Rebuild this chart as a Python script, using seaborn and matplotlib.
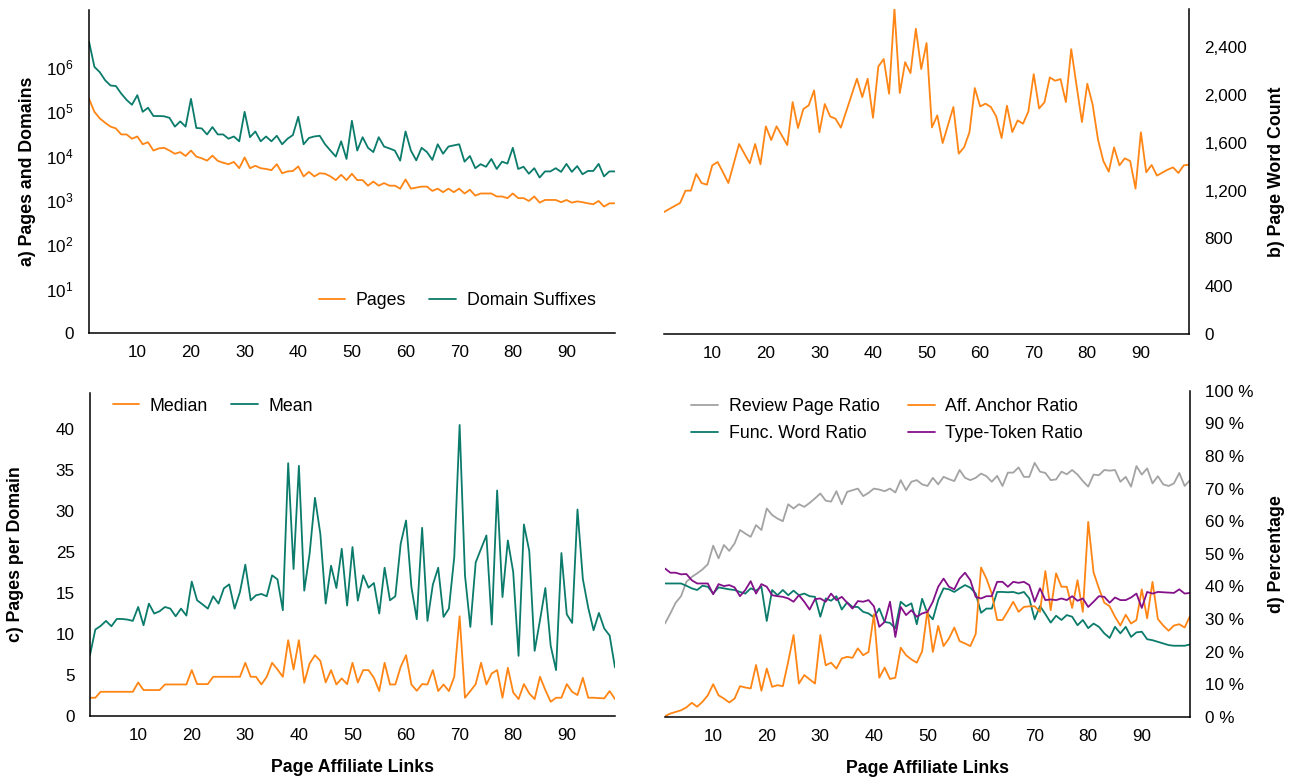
import numpy as np
import pandas as pd
import seaborn as sns
import matplotlib
matplotlib.use("Agg")
import matplotlib.pyplot as plt

sns.set_style("white")
plt.rcParams['font.family'] = ['Liberation Sans', 'DejaVu Sans']
plt.rcParams['mathtext.fontset'] = 'custom'
plt.rcParams['mathtext.rm'] = 'Liberation Sans'
plt.rcParams['text.color'] = 'black'
plt.rcParams['axes.labelcolor'] = 'black'

# Data
links = list(range(1, 100))

pages = [190000, 97000, 69000, 55000, 45000, 41000, 30000, 30000, 24000, 27000,
         18000, 20000, 13000, 14500, 15000, 13000, 11000, 12000, 9800, 13000,
         9500, 8700, 7700, 10000, 7600, 6900, 6400, 7200, 5200, 9100,
         5200, 5900, 5200, 5000, 4700, 6400, 4000, 4400, 4500, 5700,
         3400, 4300, 3400, 4000, 3900, 3400, 2800, 3700, 2800, 3900,
         2800, 2800, 2100, 2600, 2100, 2400, 2100, 2100, 1800, 2900,
         1800, 1900, 2000, 2000, 1600, 1800, 1500, 1800, 1500, 1800,
         1400, 1700, 1250, 1400, 1400, 1400, 1200, 1200, 1100, 1400,
         1100, 1100, 950, 1200, 870, 1000, 1000, 1000, 890, 1000,
         870, 930, 890, 840, 800, 950, 710, 840, 840]

domain_suffixes = [3700000, 1000000, 760000, 500000, 380000, 370000, 250000, 180000, 140000, 230000,
                   97000, 120000, 78000, 78000, 77000, 71000, 45000, 59000, 45000, 190000,
                   42000, 41000, 30000, 44000, 30000, 30000, 24000, 27000, 21000, 97000,
                   26000, 35000, 21000, 27000, 21000, 28000, 18000, 24000, 29000, 75000,
                   18000, 25000, 27000, 28000, 18000, 13000, 9500, 21000, 8400, 61000,
                   13000, 26000, 15000, 12000, 26000, 16000, 14500, 13000, 7700, 35000,
                   13000, 7800, 15000, 12000, 8000, 18000, 11000, 16000, 17000, 18000,
                   7300, 9800, 5200, 6400, 5600, 8400, 5000, 7300, 6600, 15000,
                   5000, 5600, 3900, 5200, 3200, 4400, 4400, 5200, 4300, 6500,
                   4300, 5800, 3800, 4500, 4500, 6500, 3400, 4400, 4400]

word_count = [1021, 1047, 1072, 1097, 1200, 1200, 1340, 1264, 1250, 1412,
              1440, 1354, 1264, 1426, 1591, 1510, 1429, 1591, 1421, 1739,
              1624, 1739, 1661, 1582, 1942, 1725, 1884, 1915, 2040, 1689,
              1926, 1822, 1803, 1728, 1864, 2001, 2138, 1984, 2138, 1811,
              2241, 2303, 2012, 2724, 2018, 2277, 2185, 2557, 2219, 2437,
              1730, 1831, 1599, 1750, 1901, 1510, 1563, 1689, 2060, 1906,
              1929, 1901, 1822, 1641, 1912, 1691, 1789, 1761, 1864, 2177,
              1889, 1940, 2149, 2121, 2135, 1942, 2386, 2079, 1775, 2096,
              1920, 1627, 1448, 1359, 1563, 1412, 1471, 1448, 1217, 1689,
              1354, 1415, 1326, 1351, 1376, 1395, 1348, 1412, 1418]

median_pages = [2.55, 2.55, 3.38, 3.38, 3.38, 3.38, 3.38, 3.38, 3.38, 4.68,
                3.62, 3.62, 3.62, 3.62, 4.40, 4.40, 4.40, 4.40, 4.40, 6.40,
                4.45, 4.45, 4.45, 5.47, 5.47, 5.47, 5.47, 5.47, 5.47, 7.42,
                5.47, 5.47, 4.40, 5.47, 7.42, 6.49, 5.47, 10.57, 6.49, 10.57,
                4.63, 7.32, 8.48, 7.69, 4.68, 6.40, 4.40, 5.24, 4.45, 7.42,
                4.68, 6.40, 6.40, 5.33, 3.48, 7.42, 4.40, 4.40, 6.86, 8.48,
                4.40, 3.52, 4.45, 4.40, 6.40, 3.48, 4.40, 3.48, 5.47, 13.9,
                2.55, 3.48, 4.45, 7.42, 4.40, 5.93, 6.40, 2.55, 6.72, 3.29,
                2.36, 4.45, 3.15, 2.36, 5.47, 3.62, 1.99, 2.55, 2.55, 4.45,
                3.38, 2.92, 5.33, 2.55, 2.55, 2.50, 2.46, 3.48, 2.36]

mean_pages = [8.48, 12.05, 12.56, 13.26, 12.51, 13.53, 13.53, 13.44, 13.26, 15.20,
              12.65, 15.67, 14.28, 14.60, 15.20, 14.97, 13.90, 14.97, 14.00, 18.73,
              16.13, 15.57, 14.97, 16.69, 15.67, 17.80, 18.35, 14.97, 17.29, 21.09,
              16.13, 16.83, 17.01, 16.69, 19.61, 19.05, 14.74, 35.23, 20.49, 34.86,
              17.47, 22.62, 30.41, 25.40, 15.67, 20.95, 17.84, 23.31, 15.39, 23.55,
              16.08, 19.61, 17.89, 18.54, 14.28, 20.67, 16.13, 16.69, 24.01, 27.25,
              17.98, 13.49, 26.23, 13.26, 18.31, 20.67, 13.81, 14.97, 22.16, 40.56,
              19.61, 12.42, 21.41, 23.31, 25.17, 12.75, 31.43, 16.59, 24.47, 20.07,
              8.39, 26.70, 22.99, 9.08, 13.35, 17.84, 9.78, 6.40, 22.71, 14.18,
              12.98, 28.78, 19.10, 15.11, 11.96, 14.37, 12.19, 11.22, 6.77]

review_ratio = [28.6, 31.7, 35.0, 37.0, 41.4, 42.9, 44.0, 45.2, 46.8, 52.5,
                48.6, 52.7, 50.9, 53.2, 57.3, 56.2, 55.2, 58.8, 57.3, 63.9,
                61.9, 60.8, 60.0, 65.2, 63.9, 65.2, 64.4, 65.6, 67.0, 68.5,
                66.3, 66.0, 69.2, 65.2, 69.0, 69.5, 70.0, 67.7, 68.7, 70.0,
                69.7, 69.2, 70.0, 68.8, 72.6, 69.5, 72.1, 72.6, 71.3, 70.8,
                73.3, 71.3, 73.6, 72.9, 72.3, 75.7, 73.3, 72.6, 73.3, 74.6,
                73.8, 72.1, 73.9, 70.8, 74.9, 74.9, 76.5, 73.6, 73.6, 77.9,
                75.2, 74.8, 72.6, 72.8, 75.2, 74.4, 75.7, 74.3, 72.3, 70.6,
                74.3, 74.1, 75.7, 75.5, 75.7, 72.1, 73.6, 70.6, 76.9, 74.3,
                76.2, 71.6, 73.8, 71.3, 70.8, 71.6, 74.8, 70.8, 72.6]

anchor_ratio = [0.2, 1.0, 1.5, 2.0, 2.9, 4.3, 3.1, 4.6, 6.6, 10.0,
                6.6, 5.6, 4.4, 5.6, 9.4, 9.0, 8.7, 15.9, 8.0, 14.8,
                9.2, 9.7, 9.4, 16.9, 25.1, 10.2, 12.8, 11.5, 10.2, 25.1,
                15.8, 16.6, 14.8, 17.9, 18.4, 18.1, 21.0, 18.9, 19.9, 31.5,
                12.0, 15.1, 11.6, 12.0, 21.2, 18.9, 17.6, 16.6, 20.1, 32.7,
                19.9, 27.9, 21.7, 24.0, 27.4, 23.2, 22.5, 21.7, 25.4, 45.8,
                42.4, 37.8, 29.7, 29.7, 32.4, 35.3, 32.2, 33.7, 33.9, 33.9,
                32.2, 44.7, 32.7, 44.0, 39.9, 39.9, 33.4, 41.9, 32.2, 59.8,
                44.3, 39.4, 35.0, 33.9, 30.7, 28.0, 31.3, 28.6, 29.7, 39.1,
                30.2, 41.4, 30.0, 28.0, 26.4, 28.0, 28.4, 27.4, 30.9]

func_word_ratio = [40.9, 40.9, 40.9, 40.9, 40.2, 39.4, 38.9, 40.2, 39.9, 37.8,
                   39.7, 39.4, 39.1, 38.9, 38.3, 37.8, 39.4, 38.7, 39.9, 29.4,
                   38.9, 37.3, 38.9, 37.3, 38.7, 37.3, 37.8, 37.0, 36.8, 30.7,
                   36.3, 35.6, 37.0, 32.9, 35.1, 33.7, 33.7, 32.2, 31.7, 30.5,
                   33.2, 29.1, 28.8, 27.1, 35.3, 33.9, 34.8, 28.4, 36.2, 31.7,
                   29.9, 35.8, 39.4, 39.1, 38.3, 39.4, 40.4, 39.6, 37.8, 31.9,
                   33.2, 33.2, 38.3, 38.3, 38.2, 38.3, 37.8, 38.3, 36.3, 29.9,
                   34.0, 31.5, 28.9, 31.0, 29.7, 31.2, 30.7, 28.1, 29.7, 27.2,
                   28.6, 27.6, 25.6, 24.2, 27.6, 25.6, 27.6, 24.5, 25.9, 26.1,
                   23.8, 23.5, 23.0, 22.5, 22.0, 21.8, 21.8, 21.8, 22.2]

type_token_ratio = [45.5, 44.2, 44.2, 43.7, 43.8, 41.9, 40.9, 40.9, 40.9, 37.6,
                    40.7, 40.1, 40.4, 39.7, 37.0, 38.9, 41.6, 37.8, 40.7, 39.9,
                    37.3, 37.0, 36.8, 36.3, 35.3, 37.3, 35.3, 32.9, 36.1, 36.3,
                    35.3, 37.8, 35.8, 36.8, 35.0, 33.2, 35.5, 35.3, 35.8, 33.9,
                    27.6, 29.1, 35.3, 24.5, 33.7, 31.2, 32.7, 30.7, 31.7, 32.2,
                    35.3, 39.9, 42.4, 39.9, 39.1, 42.4, 44.2, 41.9, 36.8, 36.3,
                    37.0, 37.0, 41.4, 41.4, 39.9, 41.4, 41.1, 41.4, 40.4, 35.3,
                    39.4, 35.8, 36.0, 35.8, 36.3, 35.8, 37.0, 35.6, 36.3, 33.7,
                    35.3, 37.0, 36.8, 35.0, 36.6, 35.8, 35.8, 36.6, 37.8, 33.4,
                    38.3, 37.8, 38.3, 38.2, 38.1, 38.0, 39.1, 37.8, 38.0]

xticks = [10, 20, 30, 40, 50, 60, 70, 80, 90]
log_ticks = [1, 10, 100, 1000, 10000, 100000, 1000000]
log_labels = ['0'] + [r'$\mathregular{10^{%d}}$' % k for k in range(1, 7)]
word_ticks = [0, 400, 800, 1200, 1600, 2000, 2400]
ppd_labels = ['0', '5', '10', '15', '25', '30', '35', '40']
pct_ticks = list(range(0, 101, 10))

ORANGE = '#ff8514'
TEAL = '#0b7b6b'
GRAY = '#a3a3a3'
PURPLE = '#84108a'

fig = plt.figure(figsize=(12.98, 7.8), dpi=100)
ax_a = fig.add_axes([0.0686, 0.573, 0.405, 0.414])
ax_b = fig.add_axes([0.5116, 0.572, 0.4045, 0.4167])
ax_c = fig.add_axes([0.0693, 0.082, 0.4045, 0.414])
ax_d = fig.add_axes([0.5123, 0.081, 0.4045, 0.418])

lw = 1.3
tick_fs = 12.3
leg_fs = 12.8
lab_fs = 12.8

# a) pages and domains
sns.lineplot(x=links, y=pages, ax=ax_a, color=ORANGE, linewidth=lw, label='Pages')
sns.lineplot(x=links, y=domain_suffixes, ax=ax_a, color=TEAL, linewidth=lw, label='Domain Suffixes')
ax_a.set_yscale('log')
ax_a.set_ylim(1, 1.9e7)
ax_a.set_yticks(log_ticks)
ax_a.set_yticklabels(log_labels)
ax_a.minorticks_off()
ax_a.set_ylabel('a) Pages and Domains')
ax_a.legend(loc='center', bbox_to_anchor=(0.70, 0.10), ncol=2, frameon=False,
            fontsize=leg_fs, handlelength=1.5, handletextpad=0.6, columnspacing=1.3)

# b) word count
sns.lineplot(x=links, y=word_count, ax=ax_b, color=ORANGE, linewidth=lw, legend=False)
ax_b.set_ylim(0, max(word_count))
ax_b.set_yticks(word_ticks)
ax_b.set_yticklabels([f'{v:,}' for v in word_ticks])
ax_b.set_ylabel('b) Page Word Count')

# c) pages per domain
sns.lineplot(x=links, y=median_pages, ax=ax_c, color=ORANGE, linewidth=lw, label='Median')
sns.lineplot(x=links, y=mean_pages, ax=ax_c, color=TEAL, linewidth=lw, label='Mean')
ax_c.set_ylim(0, 45)
ax_c.set_yticks(np.linspace(0, 40, 8))
ax_c.set_yticklabels(ppd_labels)
ax_c.set_ylabel('c) Pages per Domain')
ax_c.legend(loc='center', bbox_to_anchor=(0.234, 0.96), ncol=2, frameon=False,
            fontsize=leg_fs, handlelength=1.5, handletextpad=0.6, columnspacing=1.3)

# d) percentages
sns.lineplot(x=links, y=review_ratio, ax=ax_d, color=GRAY, linewidth=lw, label='Review Page Ratio')
sns.lineplot(x=links, y=func_word_ratio, ax=ax_d, color=TEAL, linewidth=lw, label='Func. Word Ratio')
sns.lineplot(x=links, y=anchor_ratio, ax=ax_d, color=ORANGE, linewidth=lw, label='Aff. Anchor Ratio')
sns.lineplot(x=links, y=type_token_ratio, ax=ax_d, color=PURPLE, linewidth=lw, label='Type-Token Ratio')
ax_d.set_ylim(0, 100)
ax_d.set_yticks(pct_ticks)
ax_d.set_yticklabels([f'{v} %' for v in pct_ticks])
ax_d.set_ylabel('d) Percentage')
ax_d.legend(loc='center', bbox_to_anchor=(0.423, 0.91), ncol=2, frameon=False,
            fontsize=leg_fs, handlelength=1.5, handletextpad=0.6, columnspacing=1.6,
            labelspacing=0.55)

for ax in [ax_a, ax_b, ax_c, ax_d]:
    ax.set_xlim(1, 99)
    ax.set_xticks(xticks)
    ax.tick_params(axis='both', length=0, labelsize=tick_fs, colors='black')
    ax.tick_params(axis='x', pad=8.5)
    ax.tick_params(axis='y', pad=11)
    for s in ax.spines.values():
        s.set_linewidth(1.1)
        s.set_color('black')
    ax.yaxis.label.set_fontsize(lab_fs)
    ax.yaxis.label.set_fontweight('bold')
    ax.yaxis.label.set_color('black')
    for t in ax.get_legend().get_texts() if ax.get_legend() else []:
        t.set_color('black')

for ax in [ax_a, ax_c]:
    ax.spines['top'].set_visible(False)
    ax.spines['right'].set_visible(False)

for ax in [ax_b, ax_d]:
    ax.spines['top'].set_visible(False)
    ax.spines['left'].set_visible(False)
    ax.yaxis.tick_right()
    ax.yaxis.set_label_position('right')

ax_a.yaxis.set_label_coords(-0.101, 0.5)
ax_c.yaxis.set_label_coords(-0.125, 0.5)
ax_b.yaxis.set_label_coords(1.150, 0.5)
ax_d.yaxis.set_label_coords(1.149, 0.5)

for ax in [ax_c, ax_d]:
    ax.set_xlabel('Page Affiliate Links', fontsize=lab_fs, fontweight='bold', color='black')
    ax.xaxis.set_label_coords(0.5, -0.133)

fig.savefig('out.png', dpi=100)
